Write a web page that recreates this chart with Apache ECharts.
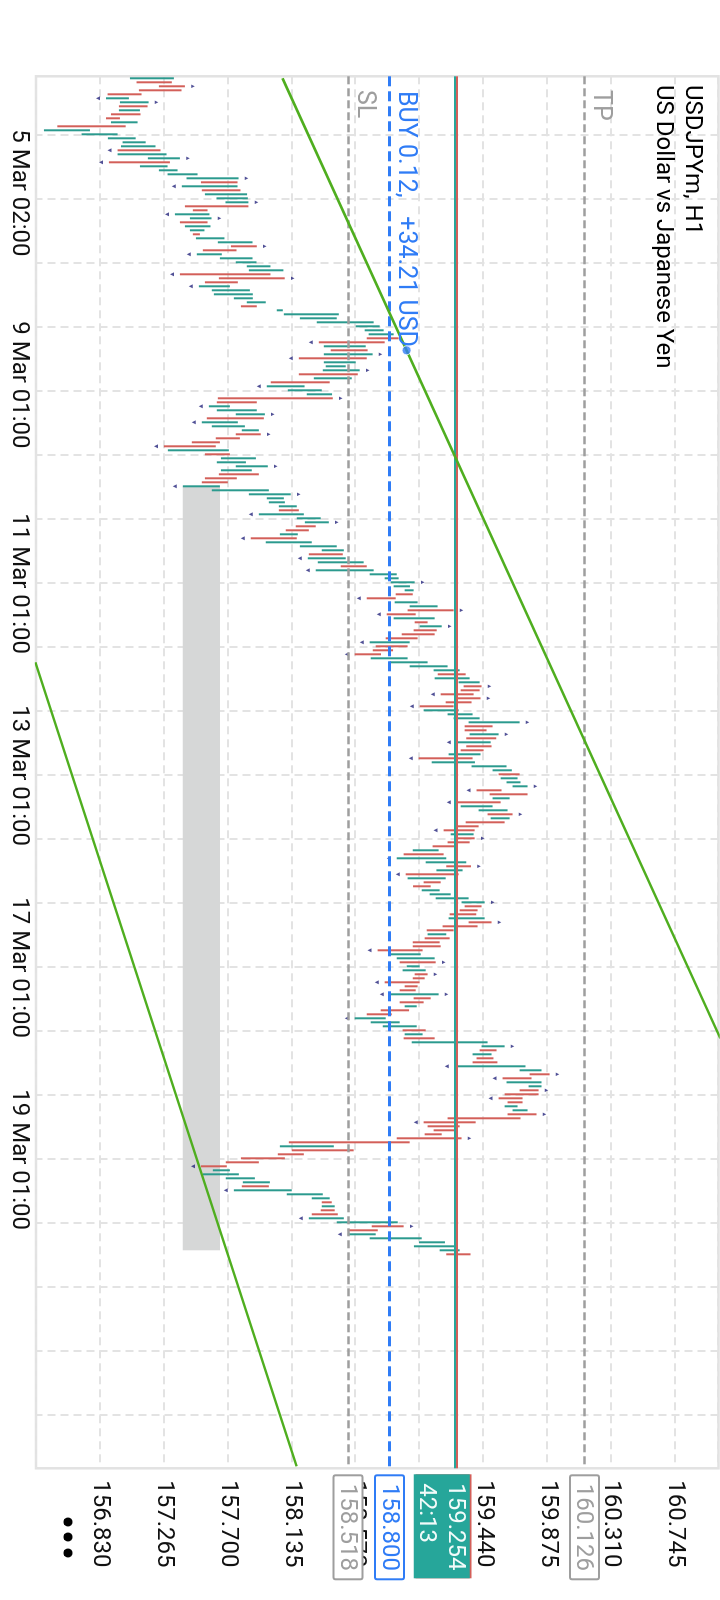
<!DOCTYPE html>
<html>
<head>
<meta charset="utf-8">
<script src="https://cdn.jsdelivr.net/npm/echarts@6.0.0/dist/echarts.min.js"></script>
<style>
html,body{margin:0;padding:0;background:#ffffff;}
body{width:720px;height:1600px;position:relative;overflow:hidden;}
#chart{position:absolute;left:0;top:0;width:1600px;height:720px;transform-origin:0 0;transform:translate(720px,0) rotate(90deg);}
</style>
</head>
<body>
<div id="chart"></div>
<script>
// ---- H1 bars (USDJPYm), index 0 = first visible bar ----
const lows = [
157.034,157.079,157.231,157.095,156.882,156.871,156.966,156.959,156.959,156.905,
156.871,156.905,156.540,156.449,156.705,156.884,156.984,156.973,156.950,156.950,
157.156,156.891,157.102,157.231,157.290,157.419,157.517,157.387,157.523,157.544,
157.623,157.684,157.408,157.462,157.340,157.442,157.374,157.408,157.442,157.462,
157.483,157.632,157.721,157.530,157.489,157.646,157.754,157.829,157.843,157.374,
157.639,157.544,157.503,157.591,157.605,157.741,157.829,157.789,158.033,158.081,
158.190,158.305,158.570,158.631,158.658,158.645,158.319,158.353,158.400,158.353,
158.183,158.353,158.366,158.346,158.183,158.285,157.992,157.965,158.108,158.237,
157.632,157.625,157.571,157.625,157.754,157.557,157.523,157.591,157.795,157.754,
157.618,157.455,157.265,157.292,157.544,157.653,157.625,157.754,157.653,157.639,
157.544,157.523,157.394,157.591,157.843,157.965,157.979,158.047,158.047,157.911,
158.169,158.224,158.162,158.094,158.054,157.856,157.958,158.190,158.339,158.251,
158.244,158.312,158.468,158.298,158.665,158.767,158.808,158.828,158.903,158.842,
158.645,158.835,158.937,158.923,158.781,158.828,158.971,159.005,158.964,158.883,
158.774,158.665,158.706,158.686,158.563,158.672,158.801,158.937,159.100,159.128,
159.107,159.270,159.304,159.284,159.148,159.243,159.182,159.005,159.032,159.195,
159.236,159.338,159.311,159.311,159.345,159.322,159.257,159.322,159.284,159.202,
158.998,159.087,159.358,159.501,159.542,159.556,159.596,159.637,159.392,159.481,
159.501,159.257,159.284,159.406,159.467,159.488,159.318,159.263,159.168,159.216,
159.243,159.195,159.093,158.958,158.896,158.849,159.046,159.186,159.119,158.910,
158.923,159.032,158.960,159.019,159.073,159.114,159.290,159.311,159.277,159.209,
159.202,159.338,159.161,159.053,159.059,159.039,158.958,158.958,158.719,158.808,
158.849,158.869,158.917,158.889,158.971,158.958,158.767,158.903,158.869,158.801,
158.964,158.869,158.903,158.740,158.645,158.563,158.672,158.754,158.889,158.903,
158.896,158.951,159.426,159.413,159.365,159.392,159.365,159.243,159.685,159.753,
159.569,159.596,159.746,159.685,159.583,159.542,159.603,159.583,159.637,159.603,
159.195,159.032,159.059,159.100,159.039,158.849,158.115,158.054,158.135,158.040,
157.789,157.686,157.517,157.598,157.530,157.686,157.802,157.795,157.741,158.101,
158.271,158.339,158.339,158.332,158.271,158.251,158.441,158.679,158.516,158.516,
158.665,159.000,158.966,159.141,159.186
];
const highs = [
157.333,157.319,157.408,157.385,157.113,157.027,157.161,157.154,157.102,157.106,
156.966,157.086,157.005,156.762,156.950,157.073,157.141,157.208,157.242,157.283,
157.374,157.306,157.290,157.358,157.494,157.773,157.766,157.766,157.786,157.831,
157.836,157.840,157.840,157.562,157.575,157.589,157.562,157.582,157.541,157.510,
157.677,157.868,157.897,157.759,157.659,157.868,157.895,157.990,158.078,157.990,
158.087,157.768,157.714,157.850,157.870,157.870,157.958,157.897,158.074,158.455,
158.441,158.692,158.733,158.760,158.828,158.862,158.767,158.638,158.651,158.685,
158.645,158.570,158.502,158.597,158.584,158.543,158.393,158.222,158.339,158.409,
158.414,157.897,157.714,157.897,157.952,157.945,157.768,157.816,157.911,157.924,
157.782,157.646,157.618,157.707,157.714,157.891,157.823,157.972,157.863,157.911,
157.761,157.700,157.646,157.979,158.128,158.081,158.088,158.169,158.183,158.217,
158.332,158.387,158.298,158.251,158.176,158.169,158.271,158.441,158.489,158.482,
158.502,158.624,158.645,158.692,158.849,158.862,158.971,158.939,158.964,158.958,
158.842,158.991,159.127,159.236,158.978,159.107,159.059,159.155,159.121,159.107,
158.991,158.937,158.923,158.824,158.742,158.923,159.059,159.195,159.277,159.318,
159.345,159.413,159.426,159.413,159.372,159.419,159.358,159.236,159.270,159.365,
159.413,159.685,159.501,159.460,159.542,159.526,159.488,159.494,159.440,159.419,
159.365,159.381,159.596,159.632,159.685,159.671,159.691,159.739,159.562,159.739,
159.617,159.556,159.501,159.603,159.637,159.617,159.583,159.406,159.379,159.372,
159.379,159.345,159.263,159.134,159.168,159.186,159.322,159.354,159.297,159.270,
159.182,159.148,159.080,159.141,159.216,159.338,159.447,159.426,159.399,159.390,
159.447,159.494,159.399,159.236,159.186,159.209,159.141,159.148,159.025,159.012,
159.107,159.114,159.005,159.046,159.059,159.039,159.005,158.991,158.978,159.134,
159.080,159.032,158.985,158.933,158.815,158.774,158.869,158.985,159.046,159.025,
159.107,159.467,159.583,159.528,159.494,159.507,159.534,159.725,159.834,159.889,
159.766,159.834,159.834,159.814,159.814,159.705,159.705,159.671,159.739,159.800,
159.691,159.386,159.277,159.243,159.155,159.290,158.937,158.421,158.556,158.217,
158.088,157.911,157.693,157.714,157.775,157.884,157.986,157.979,158.135,158.346,
158.393,158.407,158.427,158.427,158.448,158.489,158.856,158.896,158.720,158.706,
159.019,159.177,159.243,159.277,159.351
];
// u = bullish bar, d = bearish bar
const dirs = ("udddduudud"+"duduuuuudu"+"uduuuududu"+"uudduuduud"+"uudduuuuud"+
  "dduuuuuduu"+"uuuuuddudu"+"duuududuuu"+"dduuuduuud"+"ddduduuuud"+
  "dduuuuuudu"+"uudduduuud"+"uuduuuuuud"+"duuddududd"+"duddduuuud"+
  "uudddddduu"+"uuddududdu"+"duuuduuudd"+"uduududddu"+"ddduduudud"+
  "udduuuuddd"+"uddduddddu"+"uduudddddu"+"ddudduuudu"+"duududduud"+
  "duudddduud"+"dddddddudd"+"ddduuuuduu"+"ududduuddu"+"uuuud").split('');
// Fractal marks (bar indices)
const fracUp = [2,6,20,25,31,35,42,50,69,73,80,84,89,97,104,111,126,133,137,152,155,161,164,177,184,190,197,206,211,221,224,229,242,249,253,259,265,287];
const fracDown = [5,18,21,27,34,44,49,52,66,70,77,82,86,92,102,109,115,120,123,130,134,141,144,154,157,166,170,178,181,188,195,199,218,226,229,235,247,250,255,261,272,278,285,289];
// Time axis
const slotCount = 348;
const timeTickIdx = [14,62,110,158,206,254];
const timeTickText = ['5 Mar 02:00','9 Mar 01:00','11 Mar 01:00','13 Mar 01:00','17 Mar 01:00','19 Mar 01:00'];
// Price axis
const priceMin = 156.395, priceMax = 161.038, priceStep = 0.435;
// Levels
const tpPrice = 160.126, slPrice = 158.518, openPrice = 158.800, bidPrice = 159.254, askPrice = 159.265;
const countdown = '42:13';
const tradeText = 'BUY 0.12,   +34.21 USD';
// Drawing objects
const upperTrend = [[0,158.072],[240,161.050]];
const lowerTrend = [[146,156.391],[347,158.168]];
const trendAnchor = [[68,158.916]];
const zone = [[102,157.394],[293,157.646]];

const UP = '#2b9a8e', DN = '#d35f59', BOXTEAL = '#26a69a', GRAY = '#9e9e9e', BLUE = '#2f7cf6', GREEN = '#4fae1f';
const FONT = 'Roboto';
const GRID = {left:76.3, right:131.7, top:1.5, bottom:36};

const cats = Array.from({length: slotCount}, (_, i) => String(i));
const labelMap = {};
timeTickIdx.forEach((v, k) => { labelMap[v] = timeTickText[k]; });
const bars = lows.map((lo, i) => [i, lo, highs[i]]);

const chart = echarts.init(document.getElementById('chart'), null, {renderer:'canvas', width:1600, height:720});
const option = {
  animation:false,
  backgroundColor:'#ffffff',
  grid:{left:GRID.left, right:GRID.right, top:GRID.top, bottom:GRID.bottom, show:true, borderColor:'#e2e2e2', borderWidth:2.5, containLabel:false, outerBoundsMode:'none'},
  xAxis:{
    type:'category', data:cats, boundaryGap:true,
    axisLine:{show:false}, axisTick:{show:false},
    axisLabel:{interval:(i) => labelMap[i] !== undefined, formatter:(v) => labelMap[+v] || '', align:'left', margin:5,
      padding:[0,0,0,-5], fontFamily:FONT, fontSize:24, color:'#111'},
    splitLine:{show:true, alignWithLabel:true, interval:(i) => i >= 14 && (i - 14) % 16 === 0,
      lineStyle:{color:'#e3e3e3', width:2, type:[8,5]}}
  },
  yAxis:{
    type:'value', position:'right', min:priceMin, max:priceMax, interval:priceStep, scale:true,
    axisLine:{show:false}, axisTick:{show:false},
    axisLabel:{showMinLabel:false, showMaxLabel:false, margin:12, formatter:(v) => v.toFixed(3),
      fontFamily:FONT, fontSize:24, color:'#111'},
    splitLine:{show:true, lineStyle:{color:'#e3e3e3', width:2, type:[8,5]}}
  },
  series:[
    {type:'line', data:[], z:1, silent:true,
      markArea:{silent:true, itemStyle:{color:'#d6d7d7'}, data:[[{xAxis:zone[0][0], yAxis:zone[0][1]},{xAxis:zone[1][0], yAxis:zone[1][1]}]]}},
    {type:'line', data:[], z:2, silent:true,
      markLine:{symbol:['none','none'], silent:true, label:{show:false}, animation:false, data:[
        {yAxis:tpPrice, lineStyle:{color:GRAY, type:[8,4], width:2.5}},
        {yAxis:slPrice, lineStyle:{color:GRAY, type:[8,4], width:2.5}},
        {yAxis:openPrice, lineStyle:{color:BLUE, type:[10,5], width:3}},
        {yAxis:bidPrice, lineStyle:{color:BOXTEAL, type:'solid', width:2}},
        {yAxis:askPrice, lineStyle:{color:DN, type:'solid', width:2}}
      ]}},
    {type:'custom', data:bars, z:3, encode:{x:0, y:[1,2]},
      renderItem:(params, api) => {
        const i = api.value(0);
        const a = api.coord([i, api.value(1)]);
        const b = api.coord([i, api.value(2)]);
        return {type:'line', shape:{x1:a[0], y1:a[1], x2:b[0], y2:b[1]},
          style:{stroke: dirs[params.dataIndex] === 'u' ? UP : DN, lineWidth:2}};
      }},
    {type:'scatter', z:4, silent:true, data:fracUp.map(i => [i, highs[i]]),
      symbol:'triangle', symbolSize:3.5, symbolOffset:[0,-8], itemStyle:{color:'#24247c'}},
    {type:'scatter', z:4, silent:true, data:fracDown.map(i => [i, lows[i]]),
      symbol:'triangle', symbolSize:4, symbolRotate:180, symbolOffset:[0,8], itemStyle:{color:'#24247c'}},
    {type:'line', z:5, silent:true, data:upperTrend, symbol:'none', lineStyle:{color:GREEN, width:2.5}},
    {type:'line', z:5, silent:true, data:lowerTrend, symbol:'none', lineStyle:{color:GREEN, width:2.5}},
    {type:'scatter', z:6, silent:true, data:trendAnchor, symbol:'circle', symbolSize:9,
      itemStyle:{color:BLUE, borderColor:'#ffffff', borderWidth:1}}
  ]
};
chart.setOption(option);

const yPx = p => chart.convertToPixel({yAxisIndex:0}, p);
const rightX = 1600 - GRID.right;
const bx = rightX + 7;
const F24 = '24px ' + FONT;
const F25 = '25px ' + FONT;
function priceBox(p, stroke, color) {
  const y = yPx(p);
  return [
    {type:'rect', z:50, shape:{x:bx, y:y - 14.5, width:104, height:29, r:2}, style:{fill:'#ffffff', stroke:stroke, lineWidth:2}},
    {type:'text', z:51, x:bx + 52, y:y + 1, style:{text:p.toFixed(3), font:F24, fill:color, textAlign:'center', textVerticalAlign:'middle'}}
  ];
}
const yb = yPx(bidPrice), ya = yPx(askPrice);
const graphics = [
  {type:'text', z:60, x:85, y:28, style:{text:'USDJPYm, H1', font:F24, fill:'#000', textVerticalAlign:'middle'}},
  {type:'text', z:60, x:85, y:57, style:{text:'US Dollar vs Japanese Yen', font:F24, fill:'#000', textVerticalAlign:'middle'}},
  {type:'text', z:60, x:90, y:yPx(tpPrice) - 16, style:{text:'TP', font:F25, fill:GRAY, textVerticalAlign:'middle'}},
  {type:'text', z:60, x:90, y:yPx(slPrice) - 16, style:{text:'SL', font:F25, fill:GRAY, textVerticalAlign:'middle'}},
  {type:'text', z:60, x:91, y:yPx(openPrice) - 16, style:{text:tradeText, font:F25, fill:BLUE, textVerticalAlign:'middle'}},
  ...priceBox(tpPrice, GRAY, GRAY),
  ...priceBox(slPrice, GRAY, GRAY),
  ...priceBox(openPrice, BLUE, BLUE),
  {type:'rect', z:50, shape:{x:bx - 1, y:ya - 13.6, width:104, height:56}, style:{fill:DN}},
  {type:'rect', z:51, shape:{x:bx - 1, y:yb - 13.6, width:104, height:56}, style:{fill:BOXTEAL}},
  {type:'text', z:52, x:bx + 8, y:yb + 1, style:{text:bidPrice.toFixed(3), font:F24, fill:'#f2fbfa', textVerticalAlign:'middle'}},
  {type:'text', z:52, x:bx + 8, y:yb + 30, style:{text:countdown, font:F24, fill:'#f2fbfa', textVerticalAlign:'middle'}},
  {type:'circle', z:60, shape:{cx:1522, cy:652, r:4.5}, style:{fill:'#000'}},
  {type:'circle', z:60, shape:{cx:1537, cy:652, r:4.5}, style:{fill:'#000'}},
  {type:'circle', z:60, shape:{cx:1553, cy:652, r:4.5}, style:{fill:'#000'}}
];
chart.setOption({graphic: graphics});
</script>
</body>
</html>
